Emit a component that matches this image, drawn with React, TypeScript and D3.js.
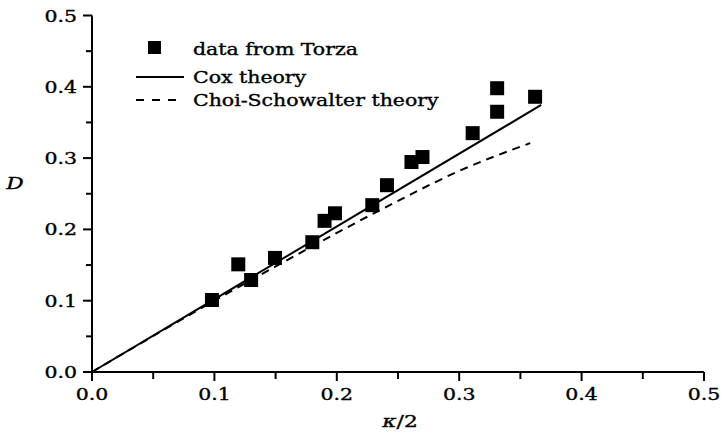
import React from 'react';
import * as d3 from 'd3';

const W = 724;
const H = 438;

// Torza's measurements: kappa/2 vs deformation D
const torzaK = [0.098, 0.1195, 0.13, 0.1495, 0.18, 0.19, 0.1985, 0.229, 0.241, 0.261, 0.27, 0.311, 0.331, 0.331, 0.362];
const torzaD = [0.101, 0.151, 0.129, 0.16, 0.182, 0.212, 0.2226, 0.234, 0.262, 0.2945, 0.3015, 0.335, 0.365, 0.398, 0.386];

// Cox theory (linear)
const coxK = [0, 0.367];
const coxD = [0, 0.3745];

// Choi-Schowalter theory
const choiK = [0, 0.1, 0.15, 0.2, 0.25, 0.3, 0.358];
const choiD = [0, 0.1, 0.148, 0.195, 0.24, 0.282, 0.321];

const majorTicks = [0, 0.1, 0.2, 0.3, 0.4, 0.5];
const minorTicks = [0.05, 0.15, 0.25, 0.35, 0.45];
const tickLabels = ['0.0', '0.1', '0.2', '0.3', '0.4', '0.5'];

const legendLabels = ['data from Torza', 'Cox theory', 'Choi-Schowalter theory'];

const FONT = '"DejaVu Serif", serif';
const STRETCH = 1.28;

function Stretched({ x, y, anchor = 'start', size = 16, italic = false, children }: any) {
  return (
    <g transform={`translate(${x},${y}) scale(${STRETCH},1)`}>
      <text
        x={0}
        y={0}
        textAnchor={anchor}
        fontFamily={FONT}
        fontSize={size}
        fontStyle={italic ? 'italic' : 'normal'}
        fill="#000"
        stroke="#000"
        strokeWidth={0.35}
      >
        {children}
      </text>
    </g>
  );
}

export default function App() {
  const x = d3.scaleLinear().domain([0, 0.5]).range([92, 704]);
  const y = d3.scaleLinear().domain([0, 0.5]).range([372, 15.5]);

  const line = d3
    .line<[number, number]>()
    .x((d) => x(d[0]))
    .y((d) => y(d[1]));
  const curve = d3
    .line<[number, number]>()
    .x((d) => x(d[0]))
    .y((d) => y(d[1]))
    .curve(d3.curveMonotoneX);

  const coxPts = coxK.map((k, i) => [k, coxD[i]] as [number, number]);
  const choiPts = choiK.map((k, i) => [k, choiD[i]] as [number, number]);

  const sq = 14;
  const sw = 2;

  return (
    <svg
      width={W}
      height={H}
      style={{ position: 'absolute', left: 0, top: 0, background: '#fff' }}
    >
      <rect width={W} height={H} fill="#fff" />

      {/* axes */}
      <line x1={x(0)} x2={x(0.5)} y1={y(0)} y2={y(0)} stroke="#000" strokeWidth={sw} />
      <line x1={x(0)} x2={x(0)} y1={y(0)} y2={y(0.5)} stroke="#000" strokeWidth={sw} />

      {majorTicks.map((t, i) => (
        <g key={'mx' + i}>
          <line x1={x(t)} x2={x(t)} y1={y(0)} y2={y(0) + 9} stroke="#000" strokeWidth={sw} />
          <line x1={x(0)} x2={x(0) - 9} y1={y(t)} y2={y(t)} stroke="#000" strokeWidth={sw} />
          <Stretched x={x(t)} y={400} anchor="middle">{tickLabels[i]}</Stretched>
          <Stretched x={77} y={y(t) + 6} anchor="end">{tickLabels[i]}</Stretched>
        </g>
      ))}
      {minorTicks.map((t, i) => (
        <g key={'mn' + i}>
          <line x1={x(t)} x2={x(t)} y1={y(0)} y2={y(0) + 7} stroke="#000" strokeWidth={sw} />
          <line x1={x(0)} x2={x(0) - 6} y1={y(t)} y2={y(t)} stroke="#000" strokeWidth={sw} />
        </g>
      ))}

      {/* axis titles */}
      <Stretched x={15} y={189} anchor="middle" size={17} italic>D</Stretched>
      <Stretched x={400} y={427} anchor="middle" size={17}>
        <tspan fontStyle="italic">κ</tspan>/2
      </Stretched>

      {/* theory curves */}
      <path d={curve(choiPts) || ''} fill="none" stroke="#000" strokeWidth={2} strokeDasharray="8 6" />
      <path d={line(coxPts) || ''} fill="none" stroke="#000" strokeWidth={2} />

      {/* data */}
      {torzaK.map((k, i) => (
        <rect
          key={'p' + i}
          x={x(k) - sq / 2}
          y={y(torzaD[i]) - sq / 2}
          width={sq}
          height={sq}
          fill="#000"
        />
      ))}

      {/* legend */}
      <rect x={148} y={41} width={13} height={13} fill="#000" />
      <line x1={136} x2={184} y1={77} y2={77} stroke="#000" strokeWidth={2} />
      <line x1={136} x2={184} y1={100} y2={100} stroke="#000" strokeWidth={2} strokeDasharray="8 8" />
      <Stretched x={193} y={55} size={16}>{legendLabels[0]}</Stretched>
      <Stretched x={193} y={83} size={16}>{legendLabels[1]}</Stretched>
      <Stretched x={193} y={106} size={16}>{legendLabels[2]}</Stretched>
    </svg>
  );
}
